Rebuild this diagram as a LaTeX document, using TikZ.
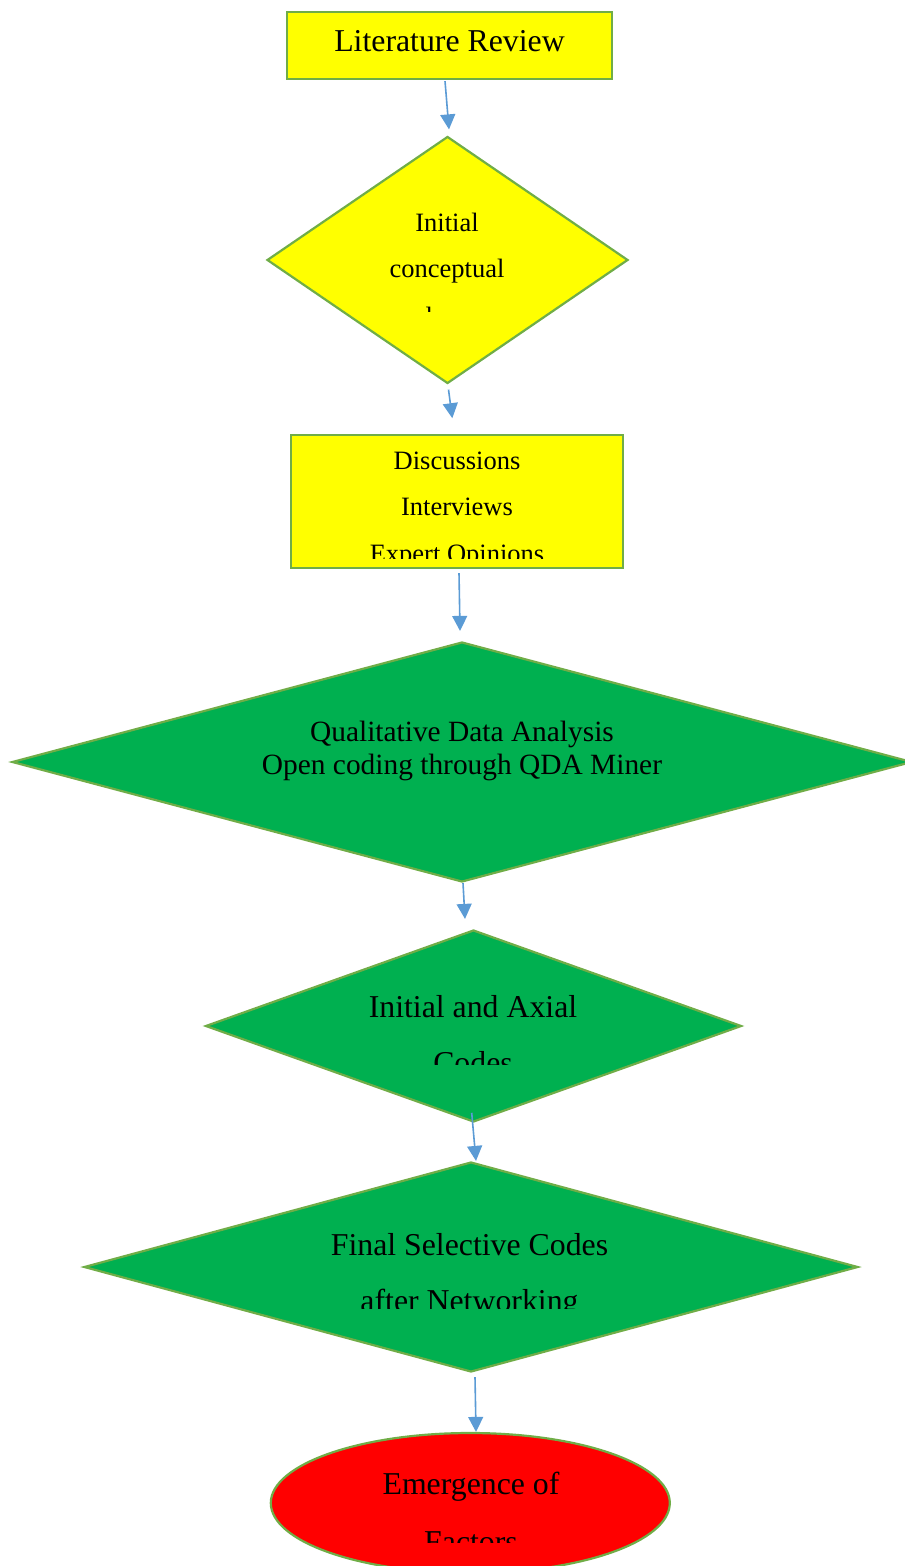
\documentclass[tikz,border=0pt]{standalone}
\usepackage{fontspec}
\setmainfont{Liberation Serif}
\usetikzlibrary{shapes.geometric,arrows.meta}

\definecolor{edgegreen}{HTML}{70AD47}
\definecolor{flowblue}{HTML}{5B9BD5}
\definecolor{codegreen}{HTML}{00B050}
\definecolor{stepyellow}{HTML}{FFFF00}
\definecolor{resultred}{HTML}{FF0000}

\begin{document}
\begin{tikzpicture}[x=0.5pt,y=-0.5pt,
  shapebox/.style={draw=edgegreen,line width=1.1pt,inner sep=0pt},
  rectstep/.style={shapebox,rectangle,fill=stepyellow},
  ydiamond/.style={shapebox,diamond,fill=stepyellow},
  gdiamond/.style={shapebox,diamond,fill=codegreen},
  oval/.style={shapebox,ellipse,fill=resultred},
  flow/.style={draw=flowblue,line width=0.8pt,-{Triangle[length=7.5pt,width=7.5pt]}},
  lbl/.style={anchor=base,inner sep=0pt,text=black},
  big/.style={lbl,font=\fontsize{15.9pt}{19pt}\selectfont},
  mid/.style={lbl,font=\fontsize{14.7pt}{17pt}\selectfont},
  small/.style={lbl,font=\fontsize{13.25pt}{16pt}\selectfont}]

\useasboundingbox (0,0) rectangle (904,1566);

% shapes
\node[rectstep,minimum width=162.5pt,minimum height=33.5pt] (lit) at (449.5,45.5) {};
\node[ydiamond,minimum width=180.5pt,minimum height=123.5pt] (frame) at (447.5,260) {};
\node[rectstep,minimum width=166pt,minimum height=66.5pt] (data) at (457,501.5) {};
\node[gdiamond,minimum width=450pt,minimum height=120pt] (qda) at (462,762) {};
\node[gdiamond,minimum width=268pt,minimum height=96pt] (axial) at (473.5,1026) {};
\node[gdiamond,minimum width=387pt,minimum height=105pt] (final) at (471,1267) {};
\node[oval,minimum width=199.5pt,minimum height=70pt] (factors) at (470.3,1503) {};

% labels
\node[big] (litT) at (449.5,52) {Literature Review};

\begin{scope}
  \clip (260,190) rectangle (640,312);
  \node[small] (frameA) at (447,232) {Initial};
  \node[small] (frameB) at (447,278) {conceptual};
  \node[small] (frameC) at (447,325.5) {lens};
\end{scope}

\begin{scope}
  \clip (291,437) rectangle (623,558);
  \node[small] (dataA) at (457,470) {Discussions};
  \node[small] (dataB) at (457,516) {Interviews};
  \node[small] (dataC) at (457,562) {Expert Opinions};
\end{scope}

\node[mid] (qdaA) at (462,741) {Qualitative Data Analysis};
\node[mid] (qdaB) at (462,774) {Open coding through QDA Miner};

\begin{scope}
  \clip (206,960) rectangle (740,1064);
  \node[big] (axialA) at (473,1017) {Initial and Axial};
  \node[big] (axialB) at (473,1073) {Codes};
\end{scope}

\begin{scope}
  \clip (85,1200) rectangle (855,1308);
  \node[big] (finalA) at (469.5,1255) {Final Selective Codes};
  \node[big] (finalB) at (469.5,1311) {after Networking};
\end{scope}

\begin{scope}
  \clip (271,1440) rectangle (670,1542);
  \node[big] (factA) at (471,1494) {Emergence of};
  \node[big] (factB) at (471,1552) {Factors};
\end{scope}

% connectors
\draw[flow] ([shift={(-4.5,1)}]lit.south) -- ([shift={(1.5,-6)}]frame.north);
\draw[flow] ([shift={(1,5)}]frame.south) -- ([shift={(-4.7,-15.7)}]data.north);
\draw[flow] ([shift={(2,4)}]data.south) -- ([shift={(-2,-10)}]qda.north);
\draw[flow] ([shift={(1,0)}]qda.south) -- ([shift={(-8.5,-10)}]axial.north);
\draw[flow] ([shift={(-1.8,-10.3)}]axial.south) -- ([shift={(5,0)}]final.north);
\draw[flow] ([shift={(4,4)}]final.south) -- ([shift={(5.7,0)}]factors.north);
\end{tikzpicture}
\end{document}
